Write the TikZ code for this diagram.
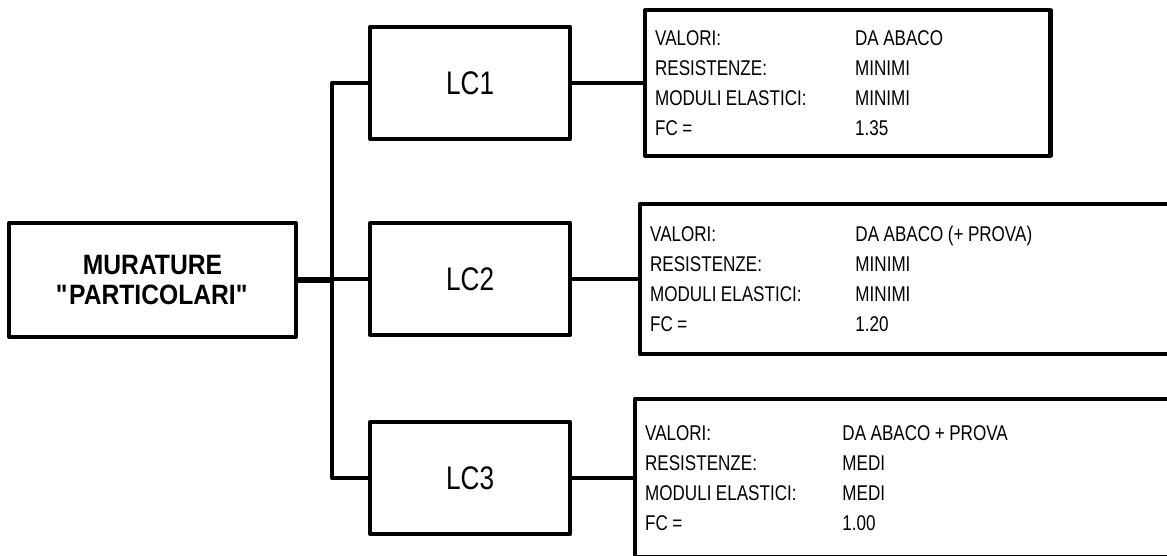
\documentclass[tikz,border=0pt]{standalone}
\usepackage{fontspec}
\setmainfont{Liberation Sans}[FakeStretch=0.8]
\newfontfamily\headfont{Liberation Sans Bold}[FakeStretch=0.88]

\tikzset{
  box/.style={draw, line width=3.2pt, line join=round, fill=white},
  mainbox/.style={box, align=center, font=\headfont\fontsize{21}{22.5}\selectfont,
    minimum width=215pt, minimum height=85pt},
  lcbox/.style={box, anchor=west, font=\fontsize{24.5}{26}\selectfont,
    minimum width=150pt, minimum height=84pt},
  infobox/.style={box, anchor=west, align=left, inner xsep=7.5pt,
    font=\fontsize{16}{22.5}\selectfont},
  conn/.style={line width=3.2pt, line join=round}
}
\newcommand{\inforow}[3][150pt]{\spaceskip=0.21em\relax\makebox[#1][l]{#2}#3}

\begin{document}
\begin{tikzpicture}[x=0.75pt, y=-0.75pt]
  \useasboundingbox (0,0) rectangle (1167,556);

  \node [mainbox] (main) at (152.5,280) {MURATURE\\\textquotedbl PARTICOLARI\textquotedbl};
  \coordinate (fork) at (332,279);

  \node [lcbox] (lc1) at (368,83) {LC1};
  \node [lcbox] (lc2) at (368,279) {LC2};
  \node [lcbox] (lc3) at (368,478) {LC3};

  \node [infobox, text width=289pt, minimum height=109pt] (info1) at (643,83)
    {\inforow{VALORI:}{DA ABACO}\\ \inforow{RESISTENZE:}{MINIMI}\\
     \inforow{MODULI ELASTICI:}{MINIMI}\\ \inforow{FC =}{1.35}};
  \node [infobox, text width=405pt, minimum height=113pt] (info2) at (638,279)
    {\inforow[154pt]{VALORI:}{DA ABACO (+ PROVA)}\\ \inforow[154pt]{RESISTENZE:}{MINIMI}\\
     \inforow[154pt]{MODULI ELASTICI:}{MINIMI}\\ \inforow[154pt]{FC =}{1.20}};
  \node [infobox, text width=405pt, minimum height=119pt] (info3) at (633,478)
    {\inforow[148pt]{VALORI:}{DA ABACO + PROVA}\\ \inforow[148pt]{RESISTENZE:}{MEDI}\\
     \inforow[148pt]{MODULI ELASTICI:}{MEDI}\\ \inforow[148pt]{FC =}{1.00}};

  \draw [conn, line width=4.5pt] (main.east) -- (main.east -| fork);
  \draw [conn] (lc1.west) -| (fork) |- (lc3.west);
  \draw [conn] (fork) -- (lc2.west);
  \foreach \i in {1,2,3}
    \draw [conn] (lc\i.east) -- (info\i.west);
\end{tikzpicture}
\end{document}
